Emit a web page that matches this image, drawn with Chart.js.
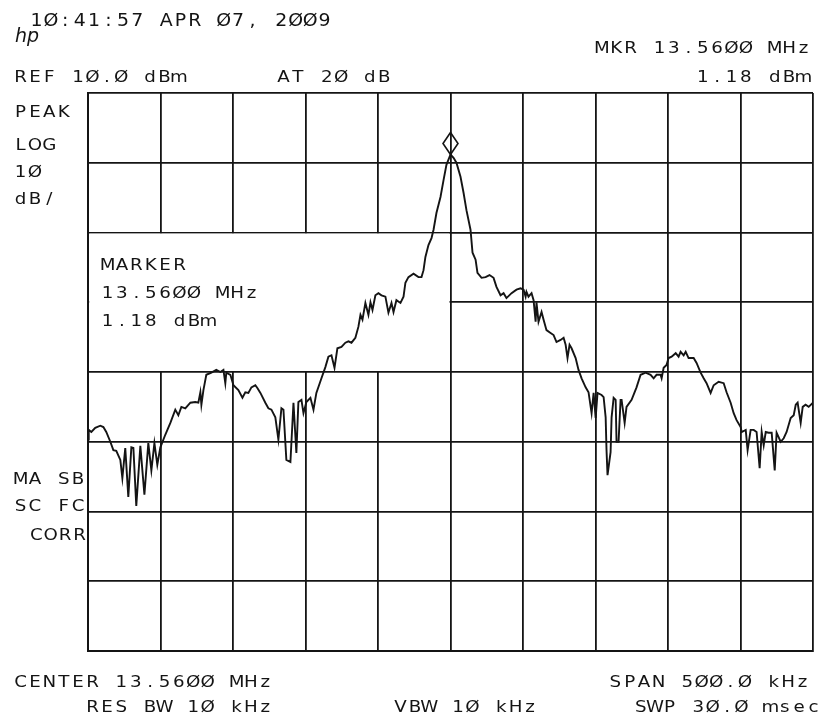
<!DOCTYPE html>
<html>
<head>
<meta charset="utf-8">
<title>Spectrum 13.56 MHz</title>
<script src="https://cdn.jsdelivr.net/npm/chart.js@4.4.1/dist/chart.umd.min.js"></script>
<style>
  html, body { margin: 0; padding: 0; background: #ffffff; }
  canvas { display: block; }
</style>
</head>
<body>
<canvas id="sa" width="829" height="722"></canvas>
<script>
// Sweep trace: offset from centre frequency (kHz) and level (dBm)
const freqOffsetKHz = [
  -250, -249.5, -247.7, -245.0, -241.5, -239.4, -237.4, -234.6, -232.5, -230.5,
  -227.7, -226.3, -224.3, -222.2, -220.1, -218.7, -216.7, -213.9, -211.1, -208.4,
  -206.3, -204.2, -202.2, -200.1, -196.7, -193.2, -189.8, -187.7, -185.6, -182.9,
  -179.4, -176.0, -173.9, -172.5, -171.8, -170.4, -168.4, -164.9, -161.5, -158.7,
  -156.6, -155.3, -154.6, -151.8, -149.7, -146.3, -143.5, -141.5, -139.4, -137.3,
  -134.6, -133.2, -131.1, -127.7, -125.6, -123.5, -120.8, -118.7, -116.6, -115.2,
  -113.2, -110.4, -108.3, -106.3, -104.9, -102.8, -101.4, -99.4, -96.6, -94.5,
  -92.5, -89.0, -86.3, -84.2, -82.1, -80.0, -78.0, -75.2, -72.5, -70.4,
  -68.3, -65.6, -63.5, -62.1, -60.7, -58.7, -56.6, -55.2, -53.8, -51.8,
  -49.7, -47.6, -44.9, -42.8, -40.7, -39.3, -37.3, -34.5, -32.4, -31.1,
  -29.0, -25.5, -22.1, -20.0, -18.6, -17.3, -15.2, -13.1, -11.7, -9.7,
  -6.9, -4.8, -2.8, 0, 2.1, 4.1, 6.9, 9.0, 11.0, 13.8,
  15.2, 17.3, 18.6, 21.4, 24.2, 26.9, 29.7, 31.7, 34.5, 36.6,
  38.6, 42.1, 45.5, 48.3, 50.4, 51.8, 52.4, 53.8, 55.9, 57.3,
  58.7, 59.3, 60.7, 62.8, 64.2, 66.2, 69.0, 71.1, 73.1, 75.9,
  78.0, 79.4, 80.7, 82.1, 83.5, 86.3, 88.3, 90.4, 93.2, 95.2,
  97.3, 98.7, 100.1, 101.4, 104.2, 105.6, 107.0, 107.6, 108.3, 110.4,
  111.1, 112.5, 113.9, 114.5, 115.9, 117.3, 118.0, 120.1, 121.4, 124.9,
  128.3, 131.1, 134.6, 138.0, 140.1, 142.1, 144.9, 145.6, 147.0, 149.0,
  150.4, 152.5, 155.3, 157.3, 158.7, 160.8, 162.2, 164.2, 167.7, 169.7,
  172.5, 174.6, 176.6, 179.4, 181.5, 184.9, 188.4, 190.4, 193.2, 195.3,
  197.3, 200.1, 200.8, 203.6, 204.9, 207.0, 209.1, 211.1, 213.2, 214.6,
  216.0, 217.4, 219.4, 221.5, 223.6, 224.9, 227.7, 229.8, 231.8, 234.6,
  236.7, 238.1, 239.4, 241.5, 242.9, 244.9, 247.0, 250
];

const levelDbm = [
  -39.7, -38.3, -38.6, -38.0, -37.7, -37.9, -38.6, -40.0, -41.2, -41.3,
  -42.6, -45.2, -40.9, -47.9, -40.8, -40.9, -49.2, -40.6, -47.6, -40.2,
  -44.1, -40.2, -43.3, -40.8, -39.0, -37.3, -35.4, -36.2, -35.0, -35.2,
  -34.4, -34.3, -34.4, -32.9, -34.7, -32.6, -30.4, -30.1, -29.7, -30.0,
  -29.7, -31.6, -30.1, -30.4, -31.9, -32.6, -33.7, -32.9, -33.0, -32.2,
  -31.9, -32.3, -33.0, -34.4, -35.2, -35.4, -36.5, -39.7, -35.2, -35.4,
  -42.6, -42.9, -34.4, -41.6, -34.3, -34.0, -35.9, -34.3, -33.7, -35.4,
  -33.0, -30.9, -29.3, -27.8, -27.6, -29.4, -26.6, -26.4, -25.8, -25.6,
  -25.8, -25.1, -23.5, -21.8, -22.5, -20.1, -21.8, -20.0, -21.1, -19.0,
  -18.7, -19.0, -19.2, -21.5, -20.1, -21.4, -19.7, -20.1, -19.2, -17.2,
  -16.4, -15.9, -16.4, -16.4, -15.4, -13.5, -11.8, -10.8, -9.6, -7.2,
  -4.9, -2.5, -0.3, 1.18, 0.7, 0.0, -2.0, -4.3, -6.8, -9.6,
  -12.9, -13.9, -15.8, -16.5, -16.4, -16.1, -16.5, -17.8, -19.0, -18.7,
  -19.4, -18.7, -18.2, -18.0, -18.2, -19.2, -18.5, -19.2, -18.7, -19.7,
  -22.8, -20.0, -22.8, -21.4, -22.5, -24.0, -24.4, -24.7, -25.7, -25.4,
  -25.1, -26.1, -28.0, -26.1, -26.6, -28.0, -29.7, -30.9, -32.2, -32.9,
  -35.9, -33.0, -36.6, -33.0, -33.3, -33.6, -36.5, -41.2, -44.8, -41.5,
  -36.5, -33.7, -34.0, -40.0, -40.0, -34.0, -34.0, -37.3, -35.0, -34.0,
  -32.2, -30.4, -30.1, -30.4, -30.9, -30.4, -30.4, -30.9, -29.4, -29.0,
  -28.0, -27.8, -27.3, -27.8, -27.1, -27.6, -27.1, -28.0, -28.0, -28.7,
  -30.1, -30.9, -31.6, -33.0, -31.9, -31.4, -31.6, -32.9, -34.4, -35.9,
  -36.9, -37.9, -38.6, -38.3, -41.2, -38.3, -38.3, -38.6, -43.8, -38.6,
  -40.5, -38.6, -38.7, -38.7, -44.1, -38.7, -40.0, -39.5, -38.6, -36.6,
  -36.2, -34.7, -34.4, -37.3, -35.0, -34.7, -35.0, -34.4
];

// Marker readout
const markerOffsetKHz = 0;
const markerDbm = 1.18;

// Display settings: reference level, dB per division, span
const refLevelDbm = 10;
const dbPerDiv = 10;
const verticalDivs = 8;
const halfSpanKHz = 250;
const kHzPerDiv = 50;

// Annotation texts
const headerLines = ["1Ø:41:57 APR Ø7, 2ØØ9"];
const topLeftTexts = ["REF 1Ø.Ø dBm", "AT 2Ø dB"];
const topRightTexts = ["MKR 13.56ØØ MHz", "1.18 dBm"];
const sideTexts = ["PEAK", "LOG", "1Ø", "dB/"];
const markerTexts = ["MARKER", "13.56ØØ MHz", "1.18 dBm"];
const statusTexts = ["MA SB", "SC FC", "CORR"];
const footerTexts = ["CENTER 13.56ØØ MHz", "SPAN 5ØØ.Ø kHz", "RES BW 1Ø kHz", "VBW 1Ø kHz", "SWP 3Ø.Ø msec"];

const INK = '#141414';
const PITCH = 14.4;
const GLYPH_W = 11;

// Plotter-style fixed-pitch text: every character gets its own cell
function plotText(ctx, str, x, baseline, opts = {}) {
  const pitch = opts.pitch || PITCH;
  const size = opts.size || 16;
  const stretch = opts.stretch || 1.14;
  ctx.save();
  ctx.fillStyle = INK;
  ctx.font = size + 'px "DejaVu Sans"';
  ctx.textAlign = 'center';
  ctx.textBaseline = 'alphabetic';
  let left = x;
  if (opts.alignRight) left = x - ((str.length - 1) * pitch + GLYPH_W);
  for (let i = 0; i < str.length; i++) {
    const ch = str[i];
    if (ch === ' ') continue;
    ctx.save();
    ctx.translate(left + GLYPH_W / 2 + i * pitch, baseline);
    ctx.scale(stretch, 1);
    ctx.fillText(ch, 0, 0);
    ctx.restore();
  }
  ctx.restore();
}

// Blank panel behind the marker readout (left half, -10 to -30 dBm)
const markerPanel = {
  id: 'markerPanel',
  beforeDatasetsDraw(chart) {
    const { ctx, scales: { x, y } } = chart;
    const x0 = x.getPixelForValue(-halfSpanKHz) + 1.2;
    const x1 = x.getPixelForValue(0) - 1;
    const y0 = y.getPixelForValue(refLevelDbm - 2 * dbPerDiv) + 1;
    const y1 = y.getPixelForValue(refLevelDbm - 4 * dbPerDiv) - 1;
    ctx.save();
    ctx.fillStyle = '#ffffff';
    ctx.fillRect(x0, y0, x1 - x0, y1 - y0);
    ctx.restore();
  }
};

// Diamond marker sitting on the trace, plus all annotation text
const annotations = {
  id: 'annotations',
  afterDatasetsDraw(chart) {
    const { ctx, scales: { x, y } } = chart;
    const mx = x.getPixelForValue(markerOffsetKHz);
    const my = y.getPixelForValue(markerDbm);
    ctx.save();
    ctx.strokeStyle = INK;
    ctx.lineWidth = 1.6;
    ctx.beginPath();
    ctx.moveTo(mx, my);
    ctx.lineTo(mx + 7.5, my - 11);
    ctx.lineTo(mx, my - 22);
    ctx.lineTo(mx - 7.5, my - 11);
    ctx.closePath();
    ctx.stroke();
    ctx.restore();

    // header
    plotText(ctx, headerLines[0], 31, 26, { size: 18, stretch: 1.05 });
    // hp logo
    ctx.save();
    ctx.fillStyle = INK;
    ctx.font = 'italic 19px "DejaVu Sans"';
    ctx.fillText('hp', 15, 42);
    ctx.restore();

    plotText(ctx, topRightTexts[0], 809, 53, { alignRight: true });
    plotText(ctx, topLeftTexts[0], 15, 82);
    plotText(ctx, topLeftTexts[1], 278, 82);
    plotText(ctx, topRightTexts[1], 809, 82, { alignRight: true });

    const sideBase = [117, 150, 177, 204];
    sideTexts.forEach((t, i) => plotText(ctx, t, 15, sideBase[i]));

    const markBase = [270, 298, 326];
    markerTexts.forEach((t, i) => plotText(ctx, t, 102, markBase[i]));

    plotText(ctx, statusTexts[0], 15, 484);
    plotText(ctx, statusTexts[1], 15, 511);
    plotText(ctx, statusTexts[2], 85, 540, { alignRight: true });

    plotText(ctx, footerTexts[0], 15, 687);
    plotText(ctx, footerTexts[1], 808, 687, { alignRight: true });
    plotText(ctx, footerTexts[2], 87, 712);
    plotText(ctx, footerTexts[3], 395, 712);
    plotText(ctx, footerTexts[4], 819, 712, { alignRight: true });
  }
};

const trace = freqOffsetKHz.map((f, i) => ({ x: f, y: levelDbm[i] }));

const gridStyle = { color: INK, lineWidth: 1.8, drawTicks: false };
const borderStyle = { display: true, color: INK, width: 2 };

new Chart(document.getElementById('sa'), {
  type: 'line',
  data: {
    datasets: [{
      data: trace,
      borderColor: INK,
      borderWidth: 1.9,
      pointRadius: 0,
      tension: 0,
      fill: false
    }]
  },
  options: {
    responsive: false,
    animation: false,
    devicePixelRatio: 1,
    layout: { padding: { left: 88, top: 93, right: 16, bottom: 71 } },
    plugins: { legend: { display: false }, tooltip: { enabled: false } },
    scales: {
      x: {
        type: 'linear',
        min: -halfSpanKHz,
        max: halfSpanKHz,
        ticks: { stepSize: kHzPerDiv, display: false },
        grid: gridStyle,
        border: borderStyle
      },
      y: {
        type: 'linear',
        min: refLevelDbm - verticalDivs * dbPerDiv,
        max: refLevelDbm,
        ticks: { stepSize: dbPerDiv, display: false },
        grid: gridStyle,
        border: borderStyle
      }
    }
  },
  plugins: [markerPanel, annotations]
});
</script>
</body>
</html>
